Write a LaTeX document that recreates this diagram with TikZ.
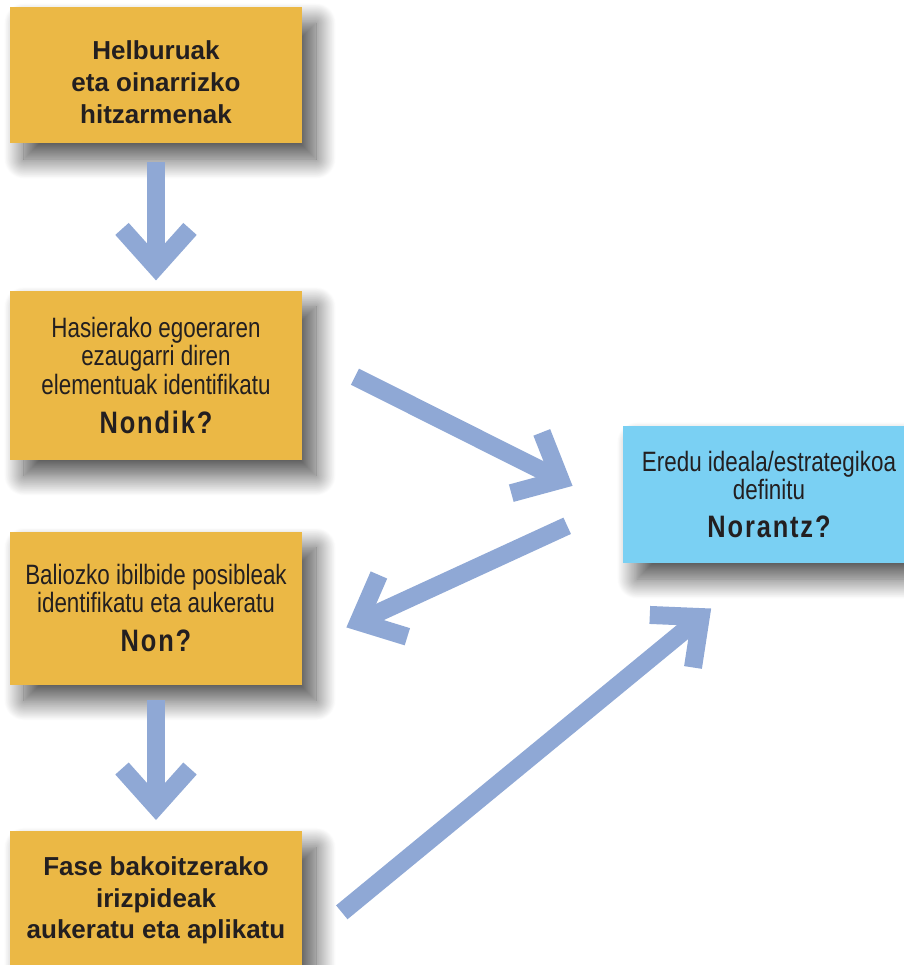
\documentclass[tikz,border=0pt]{standalone}
\usepackage{fontspec}
\setmainfont{Liberation Sans}
\newfontfamily\narrowfont{Liberation Sans}[FakeStretch=0.8]
\newfontfamily\askfont{Liberation Sans}[FakeStretch=0.82,LetterSpace=6]
\usetikzlibrary{positioning, arrows.meta, calc, shadows.blur}
\definecolor{boxOrange}{HTML}{EBB845}
\definecolor{boxBlue}{HTML}{7AD0F3}
\definecolor{arrowBlue}{HTML}{8FA8D5}
\definecolor{inkGray}{HTML}{231F20}
\tikzstyle{stepbox} =[rectangle, fill=boxOrange, text=inkGray, align=center, minimum width=146pt, inner sep=0pt, blur shadow={shadow xshift=7pt, shadow yshift=-8pt, shadow blur radius=10pt, shadow blur steps=30, shadow opacity=70}]
\tikzstyle{bigarrow} =[-{Straight Barb[sharp, length=19pt, width=34pt]}, line width=9pt, arrowBlue]
\newcommand{\ask}[1]{{\askfont\fontsize{15.5pt}{16pt}\selectfont\bfseries #1}}

\begin{document}
\begin{tikzpicture}[x=0.5pt, y=-0.5pt]
\useasboundingbox (0,0) rectangle (904,965);

\node (helburu) [stepbox, minimum height=68pt, font={\fontsize{13pt}{16pt}\selectfont\bfseries}] at (156,75) {\rule{0pt}{16.5pt}Helburuak\\eta oinarrizko\\hitzarmenak};

\node (hasiera) [stepbox, minimum height=84.5pt, font={\narrowfont\fontsize{14pt}{14.25pt}\selectfont}, below=73.5pt of helburu] {Hasierako egoeraren\\ezaugarri diren\\elementuak identifikatu\\[5.25pt]\ask{Nondik?}};

\node (ibilbide) [stepbox, minimum height=76.5pt, font={\narrowfont\fontsize{14pt}{14.25pt}\selectfont}, below=35.5pt of hasiera] {Baliozko ibilbide posibleak\\identifikatu eta aukeratu\\[5.25pt]\ask{Non?}};

\node (fase) [stepbox, minimum height=69pt, font={\fontsize{13pt}{15.75pt}\selectfont\bfseries}, below=73pt of ibilbide] {Fase bakoitzerako\\irizpideak\\aukeratu eta aplikatu};

\node (eredu) [stepbox, fill=boxBlue, minimum height=68.5pt, font={\narrowfont\fontsize{14pt}{14pt}\selectfont}] at (769,494.5) {Eredu ideala/estrategikoa\\definitu\\[5pt]\ask{Norantz?}};

\draw[bigarrow, shorten <=9.5pt, shorten >=5pt] (helburu) -- (hasiera);

\draw[bigarrow, shorten <=7.5pt, shorten >=5.5pt] (ibilbide) -- (fase);

\draw[bigarrow, shorten <=29.4pt, shorten >=28pt]
	($(hasiera.east)+(0,-25)$) -- ($(eredu.west)+(0,16.5)$);

\draw[bigarrow, shorten <=30.5pt, shorten >=24.2pt]
	($(eredu.west)+(0,5.8)$) -- ($(ibilbide.east)+(0,39.5)$);

\draw[bigarrow, shorten <=25.5pt, shorten >=35.5pt]
	($(fase.east)+(0,44.3)$) -- ($(eredu.south)+(-3,0)$);
\end{tikzpicture}
\end{document}
